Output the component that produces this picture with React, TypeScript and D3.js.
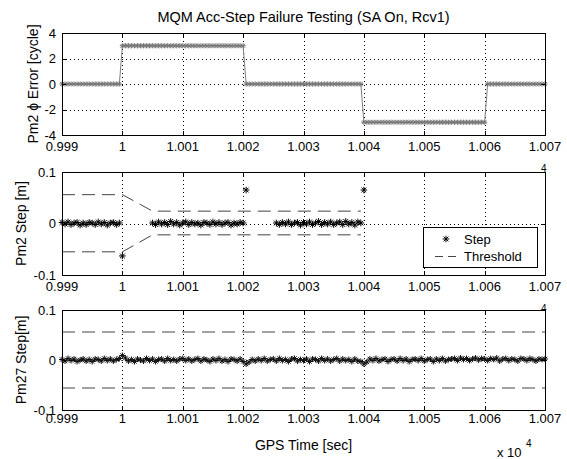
import React from 'react';
import * as d3 from 'd3';

// ---------- DATA ----------
const T0 = 9990; // GPS time of first sample [sec]
const DT = 0.5; // sample interval [sec]
const X_TICKS = [9990, 10000, 10010, 10020, 10030, 10040, 10050, 10060, 10070];
const X_TICK_LABELS = ['0.999', '1', '1.001', '1.002', '1.003', '1.004', '1.005', '1.006', '1.007'];

// Pm2 carrier phase error [cycle], one value per sample (9990 .. 10070)
const errorCycles = [
  0, 0, 0, 0, 0, 0, 0, 0, 0, 0, 0, 0, 0, 0, 0, 0, 0, 0, 0, 0,
  3, 3, 3, 3, 3, 3, 3, 3, 3, 3, 3, 3, 3, 3, 3, 3, 3, 3, 3, 3,
  3, 3, 3, 3, 3, 3, 3, 3, 3, 3, 3, 3, 3, 3, 3, 3, 3, 3, 3, 3,
  3, 0, 0, 0, 0, 0, 0, 0, 0, 0, 0, 0, 0, 0, 0, 0, 0, 0, 0, 0,
  0, 0, 0, 0, 0, 0, 0, 0, 0, 0, 0, 0, 0, 0, 0, 0, 0, 0, 0, 0,
  -3, -3, -3, -3, -3, -3, -3, -3, -3, -3, -3, -3, -3, -3, -3, -3, -3, -3, -3, -3,
  -3, -3, -3, -3, -3, -3, -3, -3, -3, -3, -3, -3, -3, -3, -3, -3, -3, -3, -3, -3,
  -3, 0, 0, 0, 0, 0, 0, 0, 0, 0, 0, 0, 0, 0, 0, 0, 0, 0, 0, 0,
  0,
];

// Pm2 step [m]: contiguous runs of samples (start time, values every DT)
const stepRunStarts = [9990, 10005, 10025.5];
const stepRunValues = [
  [0.002, -0.001, 0.003, -0.002, 0.001, 0.002, -0.003, 0.001, -0.002, 0.002,
   0.001, -0.002, 0.003, -0.001, 0.002, -0.003, 0.001, 0.002, -0.002, 0.001, -0.063],
  [0.001, -0.002, 0.003, -0.001, 0.002, -0.002, 0.004, -0.001, 0.002, -0.003,
   0.001, 0.003, -0.002, 0.002, -0.001, 0.001, -0.003, 0.002, 0.001, -0.002,
   0.003, -0.001, 0.002, -0.002, 0.001, 0.002, -0.003, 0.001, -0.001, 0.002, 0.001, 0.065],
  [0.001, -0.002, 0.002, -0.001, 0.003, -0.002, 0.001, 0.002, -0.003,
   0.002, -0.001, 0.003, -0.002, 0.001, 0.004, -0.002, 0.002, -0.001, 0.003,
   -0.002, 0.001, 0.003, -0.002, 0.004, -0.001, 0.002, -0.003, 0.003, 0.001, 0.065],
];

// Pm2 detection threshold [m]
const thrTimes = [9990, 10000, 10005, 10039.5];
const thrUpper = [0.056, 0.056, 0.024, 0.024];
const thrLower = [-0.055, -0.055, -0.022, -0.022];

// Pm27 step [m], one value per sample (9990 .. 10070)
const step27 = [
  0.001, -0.002, 0.003, -0.001, 0.002, -0.003, 0.000, 0.002, -0.002, 0.001,
  -0.003, 0.002, 0.001, -0.002, 0.003, -0.001, 0.002, -0.002, 0.001, 0.003,
  0.009, 0.004, -0.002, 0.001, -0.003, 0.002, 0.000, -0.002, 0.003, -0.001,
  0.002, -0.003, 0.001, 0.002, -0.002, 0.003, -0.001, 0.001, -0.002, 0.002,
  0.003, -0.001, 0.002, -0.002, 0.001, 0.003, -0.002, 0.002, 0.000, -0.003,
  0.002, -0.001, 0.003, -0.002, 0.001, -0.003, 0.002, 0.001, -0.002, 0.002,
  -0.003, -0.008, -0.004, 0.001, -0.002, 0.002, -0.001, 0.003, -0.002, 0.001,
  0.002, -0.002, 0.003, -0.001, 0.001, -0.003, 0.002, 0.003, -0.002, 0.001,
  -0.001, 0.002, -0.003, 0.002, 0.001, -0.002, 0.003, -0.001, 0.002, -0.002,
  0.001, 0.003, -0.002, 0.002, -0.001, 0.001, -0.003, 0.002, -0.002, -0.003,
  -0.008, -0.004, 0.002, -0.001, 0.003, -0.002, 0.001, 0.002, -0.003, 0.001,
  0.002, -0.002, 0.003, -0.001, 0.002, -0.003, 0.001, 0.002, -0.001, 0.003,
  -0.002, 0.001, 0.002, -0.003, 0.002, -0.001, 0.003, -0.002, 0.001, 0.002,
  0.003, -0.001, 0.004, 0.001, 0.003, -0.001, 0.002, 0.004, 0.000, 0.003,
  0.002, -0.001, 0.003, 0.001, 0.004, -0.002, 0.002, 0.003, -0.001, 0.002,
  0.001, -0.002, 0.003, 0.002, -0.001, 0.003, 0.001, -0.002, 0.002, 0.001,
  0.002,
];
const thr27Times = [9990, 10070];
const thr27Upper = [0.056, 0.056];
const thr27Lower = [-0.056, -0.056];

const Y1_TICKS = [-4, -2, 0, 2, 4];
const Y2_TICKS = [-0.1, 0, 0.1];
const Y2_TICK_LABELS = ['-0.1', '0', '0.1'];

const TITLE = 'MQM Acc-Step Failure Testing (SA On, Rcv1)';
const YLABELS = ['Pm2 \u03D5 Error [cycle]', 'Pm2 Step [m]', 'Pm27 Step[m]'];
const XLABEL = 'GPS Time [sec]';
const LEGEND = ['Step', 'Threshold'];

// ---------- LAYOUT ----------
const W = 567;
const H = 459;
const LEFT = 62;
const RIGHT = 545;
const PANELS = [
  { top: 33, height: 102, labelOff: 16 },
  { top: 172, height: 103, labelOff: 16 },
  { top: 310, height: 100, labelOff: 13 },
];
const FONT = '"Liberation Sans", Arial, Helvetica, sans-serif';

const x = d3.scaleLinear().domain([T0, 10070]).range([LEFT, RIGHT]);

function starPath(cx: number, cy: number, r: number) {
  const a = r * 0.72;
  return `M${cx - r},${cy}H${cx + r}M${cx},${cy - r}V${cy + r}M${cx - a},${cy - a}L${cx + a},${cy + a}M${cx - a},${cy + a}L${cx + a},${cy - a}`;
}

type Pt = [number, number];

function Axes({ idx, yDomain, yTicks, yTickLabels, yGrid, children, ylabelX }: any) {
  const p = PANELS[idx];
  const y = d3.scaleLinear().domain(yDomain).range([p.top + p.height, p.top]);
  const top = p.top;
  const bot = p.top + p.height;
  return (
    <g>
      <rect x={LEFT} y={top} width={RIGHT - LEFT} height={p.height} fill="#fff" />
      {/* grid */}
      {X_TICKS.map((t) => (
        <line key={'gx' + t} x1={Math.round(x(t)) + 0.5} x2={Math.round(x(t)) + 0.5} y1={top} y2={bot}
          stroke="#000" strokeWidth={1} strokeDasharray="1,3" />
      ))}
      {yGrid.map((v: number) => (
        <line key={'gy' + v} x1={LEFT} x2={RIGHT} y1={Math.round(y(v)) + 0.5} y2={Math.round(y(v)) + 0.5}
          stroke="#000" strokeWidth={1} strokeDasharray="1,3" />
      ))}
      {children(y)}
      {/* ticks */}
      {X_TICKS.map((t) => (
        <g key={'tx' + t}>
          <line x1={Math.round(x(t)) + 0.5} x2={Math.round(x(t)) + 0.5} y1={bot} y2={bot - 4} stroke="#000" />
          <line x1={Math.round(x(t)) + 0.5} x2={Math.round(x(t)) + 0.5} y1={top} y2={top + 4} stroke="#000" />
        </g>
      ))}
      {yTicks.map((v: number) => (
        <g key={'ty' + v}>
          <line x1={LEFT} x2={LEFT + 4} y1={Math.round(y(v)) + 0.5} y2={Math.round(y(v)) + 0.5} stroke="#000" />
          <line x1={RIGHT} x2={RIGHT - 4} y1={Math.round(y(v)) + 0.5} y2={Math.round(y(v)) + 0.5} stroke="#000" />
        </g>
      ))}
      <rect x={LEFT + 0.5} y={top + 0.5} width={RIGHT - LEFT} height={p.height} fill="none" stroke="#000" strokeWidth={1} />
      {/* tick labels */}
      {X_TICKS.map((t, i) => (
        <text key={'lx' + t} x={x(t)} y={bot + p.labelOff} textAnchor="middle" fontSize={13} fontFamily={FONT} fill="#000">
          {X_TICK_LABELS[i]}
        </text>
      ))}
      {yTicks.map((v: number, i: number) => (
        <text key={'ly' + v} x={LEFT - 6} y={y(v)} dy="0.36em" textAnchor="end" fontSize={13} fontFamily={FONT} fill="#000">
          {yTickLabels[i]}
        </text>
      ))}
      <text transform={`translate(${ylabelX},${(top + bot) / 2}) rotate(-90)`} textAnchor="middle"
        fontSize={14} fontFamily={FONT} fill="#000">
        {YLABELS[idx]}
      </text>
    </g>
  );
}

function ExpLabel({ idx, xShift }: { idx: number; xShift: number }) {
  const bot = PANELS[idx].top + PANELS[idx].height;
  return (
    <g fontFamily={FONT} fill="#000">
      <text x={497 + xShift} y={bot + 47} fontSize={13}>x 10</text>
      <text x={526 + xShift} y={bot + 37} fontSize={10}>4</text>
    </g>
  );
}

export default function App() {
  const times = errorCycles.map((_, i) => T0 + i * DT);
  const errPts: Pt[] = times.map((t, i) => [t, errorCycles[i]]);
  const stepPts: Pt[] = [];
  stepRunStarts.forEach((s, r) => stepRunValues[r].forEach((v, k) => stepPts.push([s + k * DT, v])));
  const s27Pts: Pt[] = step27.map((v, i) => [T0 + i * DT, v]);

  return (
    <svg width={W} height={H} style={{ position: 'absolute', left: 0, top: 0, background: '#fff' }}>
      <rect x={0} y={0} width={W} height={H} fill="#fff" />
      <text x={(LEFT + RIGHT) / 2} y={22} textAnchor="middle" fontSize={14.5} fontFamily={FONT} fill="#000">
        {TITLE}
      </text>

      {/* Panel 1 */}
      <Axes idx={0} yDomain={[-4, 4]} yTicks={Y1_TICKS} yTickLabels={Y1_TICKS.map(String)} yGrid={Y1_TICKS} ylabelX={38}>
        {(y: any) => {
          const line = d3.line<Pt>().x((d) => x(d[0])).y((d) => y(d[1]));
          return (
            <g>
              <path d={line(errPts) || ''} fill="none" stroke="#808080" strokeWidth={1} />
              <path d={errPts.map((d) => starPath(x(d[0]), y(d[1]), 2.6)).join('')} fill="none" stroke="#777" strokeWidth={1} />
            </g>
          );
        }}
      </Axes>
      <ExpLabel idx={0} xShift={15} />

      {/* Panel 2 */}
      <Axes idx={1} yDomain={[-0.1, 0.1]} yTicks={Y2_TICKS} yTickLabels={Y2_TICK_LABELS} yGrid={[0]} ylabelX={26}>
        {(y: any) => {
          const line = d3.line<Pt>().x((d) => x(d[0])).y((d) => y(d[1]));
          const up: Pt[] = thrTimes.map((t, i) => [t, thrUpper[i]]);
          const lo: Pt[] = thrTimes.map((t, i) => [t, thrLower[i]]);
          return (
            <g>
              <path d={line(up) || ''} fill="none" stroke="#444" strokeWidth={1} strokeDasharray="13,7" />
              <path d={line(lo) || ''} fill="none" stroke="#444" strokeWidth={1} strokeDasharray="13,7" />
              <path d={stepPts.map((d) => starPath(x(d[0]), y(d[1]), 3.3)).join('')} fill="none" stroke="#000" strokeWidth={1} />
            </g>
          );
        }}
      </Axes>
      {/* legend */}
      <g fontFamily={FONT} fontSize={13} fill="#000">
        <rect x={423.5} y={227.5} width={114} height={40} fill="#fff" stroke="#000" />
        <path d={starPath(446, 239, 3.3)} fill="none" stroke="#000" />
        <text x={464} y={244}>{LEGEND[0]}</text>
        <line x1={435} x2={456} y1={256.5} y2={256.5} stroke="#444" strokeDasharray="8,5" />
        <text x={464} y={261}>{LEGEND[1]}</text>
      </g>
      <ExpLabel idx={1} xShift={15} />

      {/* Panel 3 */}
      <Axes idx={2} yDomain={[-0.1, 0.1]} yTicks={Y2_TICKS} yTickLabels={Y2_TICK_LABELS} yGrid={[0]} ylabelX={26}>
        {(y: any) => {
          const line = d3.line<Pt>().x((d) => x(d[0])).y((d) => y(d[1]));
          const up: Pt[] = thr27Times.map((t, i) => [t, thr27Upper[i]]);
          const lo: Pt[] = thr27Times.map((t, i) => [t, thr27Lower[i]]);
          return (
            <g>
              <path d={line(up) || ''} fill="none" stroke="#444" strokeWidth={1} strokeDasharray="13,7" />
              <path d={line(lo) || ''} fill="none" stroke="#444" strokeWidth={1} strokeDasharray="13,7" />
              <path d={line(s27Pts) || ''} fill="none" stroke="#555" strokeWidth={1} />
              <path d={s27Pts.map((d) => starPath(x(d[0]), y(d[1]), 3)).join('')} fill="none" stroke="#111" strokeWidth={1} />
            </g>
          );
        }}
      </Axes>
      <text x={(LEFT + RIGHT) / 2} y={450} textAnchor="middle" fontSize={14} fontFamily={FONT} fill="#000">
        {XLABEL}
      </text>
      <ExpLabel idx={2} xShift={0} />
    </svg>
  );
}
